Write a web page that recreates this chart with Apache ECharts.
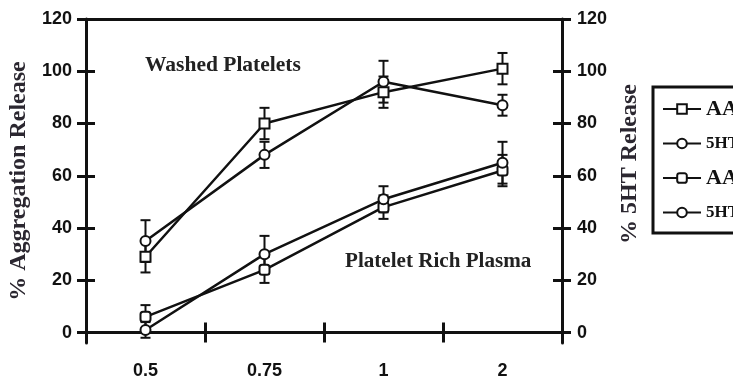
<!DOCTYPE html>
<html>
<head>
<meta charset="utf-8">
<script src="https://cdn.jsdelivr.net/npm/echarts@6/dist/echarts.min.js"></script>
<style>
  html, body { margin: 0; padding: 0; background: #fff; }
  #chart { width: 733px; height: 380px; }
</style>
</head>
<body>
<div id="chart"></div>
<script>
// Concentration categories on the x axis
const concentrations = ['0.5', '0.75', '1', '2'];
// Left / right axis tick values
const yTicks = [0, 20, 40, 60, 80, 100, 120];

// Washed platelets
const washedAA = [29, 80, 92, 101];
const washedAAErr = [6, 6, 6, 6];
const washed5HT = [35, 68, 96, 87];
const washed5HTErr = [8, 5, 8, 4];

// Platelet rich plasma
const prpAA = [6, 24, 48, 62];
const prpAAErr = [4.5, 5, 4.5, 6];
const prp5HT = [1, 30, 51, 65];
const prp5HTErr = [3, 7, 5, 8];

const SERIF = 'Liberation Serif';
const SANS = 'Liberation Sans';
const INK = '#111';

const chart = echarts.init(document.getElementById('chart'), null, { renderer: 'canvas' });

function lineSeries(name, values, symbol) {
  return {
    name: name,
    type: 'line',
    data: values,
    xAxisIndex: 0,
    yAxisIndex: 0,
    symbol: symbol,
    symbolSize: 10,
    showAllSymbol: true,
    z: 3,
    lineStyle: { color: INK, width: 2.5 },
    itemStyle: { color: '#fff', borderColor: INK, borderWidth: 2 },
    emphasis: { disabled: true }
  };
}

function errorSeries(values, errs) {
  return {
    type: 'custom',
    xAxisIndex: 0,
    yAxisIndex: 0,
    z: 1,
    silent: true,
    data: values.map((v, i) => [i, v, errs[i]]),
    encode: { x: 0, y: 1 },
    renderItem: function (params, api) {
      const i = api.value(0);
      const v = api.value(1);
      const e = api.value(2);
      const hi = api.coord([i, v + e]);
      const lo = api.coord([i, v - e]);
      const cap = 5;
      const style = { stroke: INK, lineWidth: 2 };
      return {
        type: 'group',
        children: [
          { type: 'line', shape: { x1: hi[0], y1: hi[1], x2: lo[0], y2: lo[1] }, style: style },
          { type: 'line', shape: { x1: hi[0] - cap, y1: hi[1], x2: hi[0] + cap, y2: hi[1] }, style: style },
          { type: 'line', shape: { x1: lo[0] - cap, y1: lo[1], x2: lo[0] + cap, y2: lo[1] }, style: style }
        ]
      };
    }
  };
}

const tickLabel = { fontFamily: SANS, fontWeight: 'bold', fontSize: 18, color: INK };
const axisName = { fontFamily: SERIF, fontWeight: 'bold', fontSize: 24, color: '#2b2730' };

function yAxisBase(position) {
  return {
    type: 'value',
    position: position,
    min: -4,
    max: 120,
    splitLine: { show: false },
    axisLine: { show: true, lineStyle: { color: INK, width: 3 } },
    axisTick: { show: true, length: 9, customValues: yTicks, lineStyle: { color: INK, width: 3 } },
    axisLabel: { show: true, customValues: yTicks, ...tickLabel }
  };
}

const option = {
  animation: false,
  backgroundColor: '#fff',
  grid: { left: 86, right: 171, top: 19, bottom: 37, containLabel: false, outerBoundsMode: 'none' },
  title: [
    { text: 'Washed Platelets', left: 145, top: 54, padding: 0,
      textStyle: { fontFamily: SERIF, fontWeight: 'bold', fontSize: 21.5, color: '#222' } },
    { text: 'Platelet Rich Plasma', left: 345, top: 251, padding: 0,
      textStyle: { fontFamily: SERIF, fontWeight: 'bold', fontSize: 21.1, color: '#222' } }
  ],
  legend: {
    orient: 'vertical',
    left: 653,
    top: 87,
    padding: [11, 40, 12, 9],
    borderColor: INK,
    borderWidth: 3,
    itemWidth: 38,
    itemHeight: 12,
    itemGap: 15,
    selectedMode: false,
    data: ['AA', '5HT', 'AA ', '5HT '],
    formatter: function (name) {
      return name.trim() === 'AA' ? '{a|AA}' : '{b|5HT}';
    },
    textStyle: {
      color: INK,
      rich: {
        a: { fontFamily: SERIF, fontWeight: 'bold', fontSize: 22, lineHeight: 20, color: INK },
        b: { fontFamily: SERIF, fontWeight: 'bold', fontSize: 17, lineHeight: 20, color: INK }
      }
    }
  },
  xAxis: [
    {
      type: 'category',
      data: concentrations,
      position: 'bottom',
      boundaryGap: true,
      axisLine: { show: true, onZero: true, lineStyle: { color: INK, width: 3 } },
      axisTick: { show: true, length: 10, lineStyle: { color: INK, width: 3 } },
      axisLabel: { margin: 19, ...tickLabel },
      splitLine: { show: false }
    },
    {
      // inner half of the crossing ticks
      type: 'category',
      data: concentrations,
      position: 'bottom',
      boundaryGap: true,
      axisLine: { show: false, onZero: true },
      axisTick: { show: true, inside: true, length: 10, lineStyle: { color: INK, width: 3 } },
      axisLabel: { show: false },
      splitLine: { show: false }
    },
    {
      // top frame line
      type: 'category',
      data: concentrations,
      position: 'top',
      boundaryGap: true,
      axisLine: { show: true, onZero: false, lineStyle: { color: INK, width: 3 } },
      axisTick: { show: false },
      axisLabel: { show: false },
      splitLine: { show: false }
    }
  ],
  yAxis: [
    Object.assign(yAxisBase('left'), {
      name: '% Aggregation Release',
      nameLocation: 'middle',
      nameRotate: 90,
      nameGap: 54,
      nameTextStyle: axisName,
      axisLabel: { show: true, customValues: yTicks, margin: 14, ...tickLabel }
    }),
    Object.assign(yAxisBase('left'), {
      axisLine: { show: false },
      axisTick: { show: true, inside: true, length: 9, customValues: yTicks, lineStyle: { color: INK, width: 3 } },
      axisLabel: { show: false }
    }),
    Object.assign(yAxisBase('right'), {
      name: '% 5HT Release',
      nameLocation: 'middle',
      nameRotate: 90,
      nameGap: 37,
      nameTextStyle: Object.assign({}, axisName, { padding: [0, 0, 0, 34] }),
      axisLabel: { show: true, customValues: yTicks, margin: 15, ...tickLabel }
    }),
    Object.assign(yAxisBase('right'), {
      axisLine: { show: false },
      axisTick: { show: true, inside: true, length: 9, customValues: yTicks, lineStyle: { color: INK, width: 3 } },
      axisLabel: { show: false }
    })
  ],
  series: [
    errorSeries(washedAA, washedAAErr),
    errorSeries(washed5HT, washed5HTErr),
    errorSeries(prpAA, prpAAErr),
    errorSeries(prp5HT, prp5HTErr),
    lineSeries('AA', washedAA, 'rect'),
    lineSeries('5HT', washed5HT, 'circle'),
    lineSeries('AA ', prpAA, 'roundRect'),
    lineSeries('5HT ', prp5HT, 'circle')
  ]
};

chart.setOption(option);
</script>
</body>
</html>
